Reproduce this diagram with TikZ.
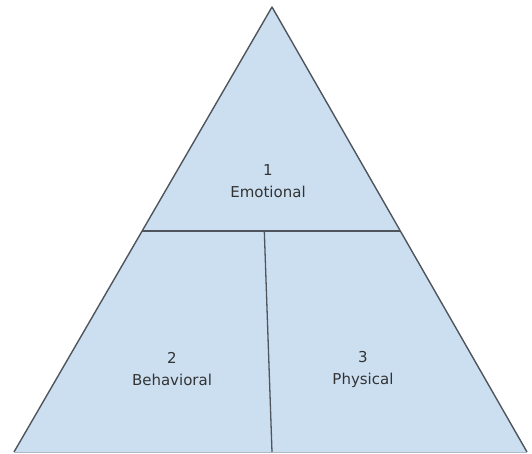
\documentclass[tikz,border=0pt]{standalone}
\usepackage{fontspec}
\setmainfont{DejaVu Sans}
\definecolor{fillblue}{HTML}{CCDFF1}
\definecolor{edgegray}{HTML}{4F555C}
\definecolor{textgray}{HTML}{333333}
\begin{document}
\begin{tikzpicture}[x=1pt,y=1pt,
  lbl/.style={align=center, font=\fontsize{15}{22}\selectfont, text=textgray, inner sep=0pt},
  edgeline/.style={draw=edgegray, line width=1.4pt, line join=round},
  divline/.style={draw=edgegray, line width=1.3pt}]
\useasboundingbox (0,0) rectangle (532,453);
\coordinate (apex) at (272,446);
\coordinate (bl) at (14,1);
\coordinate (br) at (527,1);
\fill[fillblue] (apex) -- (bl) -- (br) -- cycle;
\draw[edgeline] (bl) -- (apex) -- (br);
\draw[fillblue!60!gray, line width=1pt] (bl) -- (br);
\coordinate (hl) at (142.1,222);
\coordinate (hr) at (400.4,222);
\draw[divline] (hl) -- (hr);
\coordinate (vt) at (264.3,222);
\coordinate (vb) at (272,1);
\draw[divline] (vt) -- (vb);
\node[lbl] (emo) at (268,272) {1\\Emotional};
\node[lbl] (beh) at (172,84) {2\\Behavioral};
\node[lbl] (phy) at (363,84) {3\\Physical};
\end{tikzpicture}
\end{document}
